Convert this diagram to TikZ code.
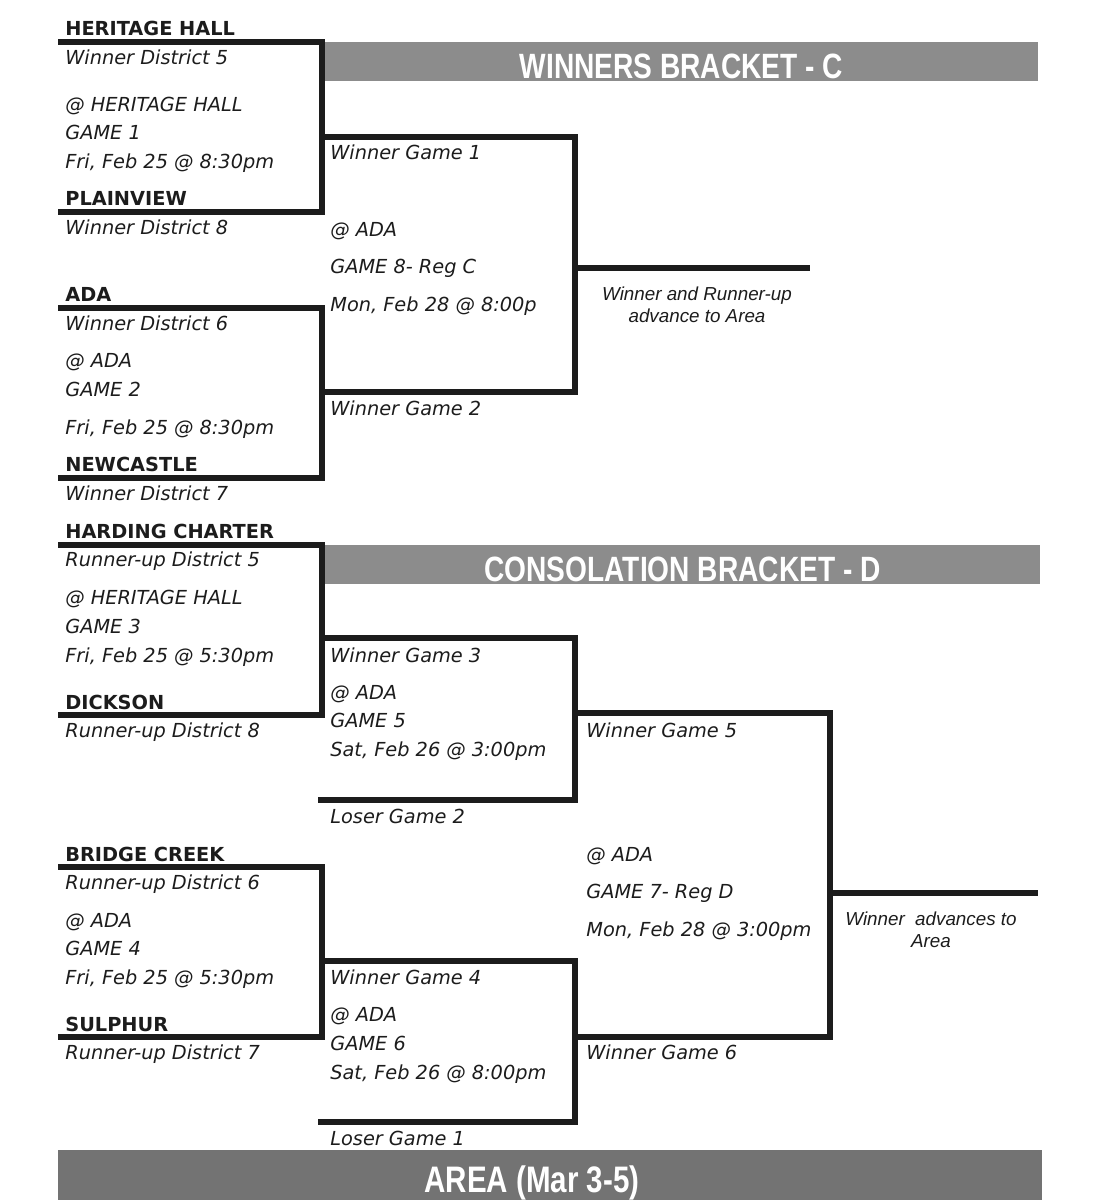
\documentclass[tikz,border=0pt]{standalone}
\usepackage{fontspec}
\setmainfont{DejaVu Sans}
\newfontfamily\arialfont{Liberation Sans}
\newfontfamily\narrowfont[FakeStretch=0.8]{Liberation Sans}
\definecolor{hdrgray}{HTML}{8C8C8C}
\definecolor{areagray}{HTML}{737373}
\definecolor{ink}{HTML}{1C1C1C}
\tikzset{
  bline/.style={line width=3.1pt, draw=ink},
  team/.style={anchor=west, inner sep=0pt, text height=8pt, text depth=0pt, text=ink,
    font=\fontsize{11}{13}\selectfont\bfseries},
  info/.style={team, font=\fontsize{11}{13}\selectfont\itshape},
  advnote/.style={align=center, inner sep=0pt, text=ink,
    font=\arialfont\itshape\fontsize{10.7}{12.6}\selectfont},
  hdr/.style={fill=hdrgray, text=white, inner sep=0pt, minimum height=0.78cm,
    text height=19.3pt, text depth=0pt,
    font=\narrowfont\bfseries\fontsize{20}{24}\selectfont},
  areatext/.style={text=white, inner sep=0pt, text height=15pt, text depth=0pt,
    font=\narrowfont\bfseries\fontsize{21}{25}\selectfont}
}
\begin{document}
\begin{tikzpicture}[x=0.02cm, y=-0.02cm]
    \useasboundingbox (0,0) rectangle (1118,1200);

    % Section headers
    \node[hdr, minimum width=14.26cm] (winhdr) at (681.5,61.5) {WINNERS BRACKET - C};
    \node[hdr, minimum width=14.3cm] (conshdr) at (682.5,564.5) {CONSOLATION BRACKET - D};
    \node[hdr, fill=areagray, minimum width=19.68cm, minimum height=1cm] (areabar) at (550,1175) {};
    \node[areatext] (arealbl) at (532,1179) {AREA (Mar 3-5)};

    % Slot and game points
    \coordinate (t1) at (58,42);   \coordinate (t2) at (58,212);
    \coordinate (t3) at (58,308);  \coordinate (t4) at (58,478);
    \coordinate (t5) at (58,545);  \coordinate (t6) at (58,715);
    \coordinate (t7) at (58,867);  \coordinate (t8) at (58,1037);
    \coordinate (lg2) at (318,800); \coordinate (lg1) at (318,1122);
    \coordinate (g1) at (322,137); \coordinate (g2) at (322,392);
    \coordinate (g3) at (322,638); \coordinate (g4) at (322,961);
    \coordinate (g8) at (575,268); \coordinate (g5) at (575,713);
    \coordinate (g6) at (575,1037); \coordinate (g7) at (830,893);
    \coordinate (e8) at (810,268); \coordinate (e7) at (1038,893);

    % Winners bracket lines
    \draw[bline] (t1) -| (g1) |- (t2);
    \draw[bline] (t3) -| (g2) |- (t4);
    \draw[bline] (g1) -| (g8) |- (g2);
    \draw[bline] (g8) -- (e8);

    % Consolation bracket lines
    \draw[bline] (t5) -| (g3) |- (t6);
    \draw[bline] (t7) -| (g4) |- (t8);
    \draw[bline] (g3) -| (g5) |- (lg2);
    \draw[bline] (g4) -| (g6) |- (lg1);
    \draw[bline] (g5) -| (g7) |- (g6);
    \draw[bline] (g7) -- (e7);

    % Game 1
    \node[team] (heritage) at (65,28) {HERITAGE HALL};
    \node[info] (hhdist) at (65,57) {Winner District 5};
    \node[info] (g1site) at (65,104) {@ HERITAGE HALL};
    \node[info] (g1num) at (65,132) {GAME 1};
    \node[info] (g1date) at (65,161) {Fri, Feb 25 @ 8:30pm};
    \node[team] (plainview) at (65,198) {PLAINVIEW};
    \node[info] (pvdist) at (65,227) {Winner District 8};

    % Game 2
    \node[team] (ada) at (65,294) {ADA};
    \node[info] (adadist) at (65,323) {Winner District 6};
    \node[info] (g2site) at (65,360) {@ ADA};
    \node[info] (g2num) at (65,389) {GAME 2};
    \node[info] (g2date) at (65,427) {Fri, Feb 25 @ 8:30pm};
    \node[team] (newcastle) at (65,464) {NEWCASTLE};
    \node[info] (ncdist) at (65,493) {Winner District 7};

    % Game 8
    \node[info] (wg1) at (330,152) {Winner Game 1};
    \node[info] (g8site) at (330,229) {@ ADA};
    \node[info] (g8num) at (330,266) {GAME 8- Reg C};
    \node[info] (g8date) at (330,304) {Mon, Feb 28 @ 8:00p};
    \node[info] (wg2) at (330,408) {Winner Game 2};
    \node[advnote] (adv8) at (697,305) {Winner and Runner-up\\advance to Area};

    % Game 3
    \node[team] (harding) at (65,531) {HARDING CHARTER};
    \node[info] (hcdist) at (65,559) {Runner-up District 5};
    \node[info] (g3site) at (65,597) {@ HERITAGE HALL};
    \node[info] (g3num) at (65,626) {GAME 3};
    \node[info] (g3date) at (65,655) {Fri, Feb 25 @ 5:30pm};
    \node[team] (dickson) at (65,702) {DICKSON};
    \node[info] (dkdist) at (65,730) {Runner-up District 8};

    % Game 4
    \node[team] (bridge) at (65,854) {BRIDGE CREEK};
    \node[info] (bcdist) at (65,882) {Runner-up District 6};
    \node[info] (g4site) at (65,920) {@ ADA};
    \node[info] (g4num) at (65,948) {GAME 4};
    \node[info] (g4date) at (65,977) {Fri, Feb 25 @ 5:30pm};
    \node[team] (sulphur) at (65,1024) {SULPHUR};
    \node[info] (spdist) at (65,1052) {Runner-up District 7};

    % Games 5 and 6
    \node[info] (wg3) at (330,655) {Winner Game 3};
    \node[info] (g5site) at (330,692) {@ ADA};
    \node[info] (g5num) at (330,720) {GAME 5};
    \node[info] (g5date) at (330,749) {Sat, Feb 26 @ 3:00pm};
    \node[info] (lg2lbl) at (330,816) {Loser Game 2};
    \node[info] (wg4) at (330,977) {Winner Game 4};
    \node[info] (g6site) at (330,1014) {@ ADA};
    \node[info] (g6num) at (330,1043) {GAME 6};
    \node[info] (g6date) at (330,1072) {Sat, Feb 26 @ 8:00pm};
    \node[info] (lg1lbl) at (330,1138) {Loser Game 1};

    % Game 7
    \node[info] (wg5) at (586,730) {Winner Game 5};
    \node[info] (g7site) at (586,854) {@ ADA};
    \node[info] (g7num) at (586,891) {GAME 7- Reg D};
    \node[info] (g7date) at (586,929) {Mon, Feb 28 @ 3:00pm};
    \node[info] (wg6) at (586,1052) {Winner Game 6};
    \node[advnote] (adv7) at (931,930) {Winner\ \ advances to\\Area};
\end{tikzpicture}
\end{document}
